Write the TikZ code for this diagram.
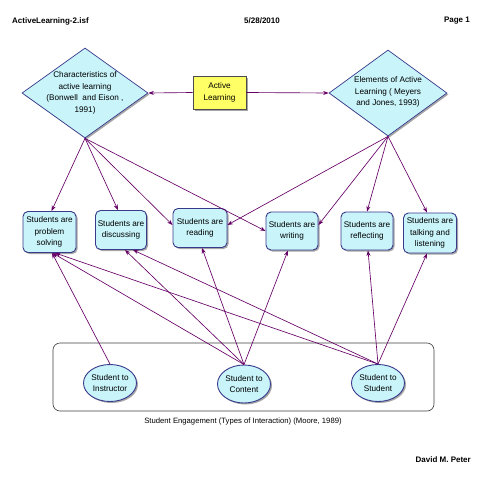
\documentclass[tikz,border=0pt]{standalone}
\usepackage{fontspec}
\setmainfont{Liberation Sans}
\usetikzlibrary{shapes.geometric,arrows.meta,shadows}
\definecolor{boxfill}{HTML}{C8F4FA}
\definecolor{boxline}{HTML}{3A3A8C}
\definecolor{edgecol}{HTML}{660066}
\definecolor{yel}{HTML}{FFFF66}
\tikzset{
  base/.style={font=\fontsize{8.2}{11.5}\selectfont, align=center},
  sbox/.style={base, draw=boxline, line width=0.9pt, fill=boxfill, rounded corners=5pt,
     minimum width=53, minimum height=39, inner sep=0.5pt,
     drop shadow={shadow xshift=1.5pt, shadow yshift=-1.5pt, fill=gray!70, opacity=1}},
  dia/.style={diamond, aspect=1.4, draw=boxline, line width=0.7pt, fill=boxfill,
     inner sep=0pt,
     drop shadow={shadow xshift=1.5pt, shadow yshift=-1.5pt, fill=gray!70, opacity=1}},
  ell/.style={base, ellipse, draw=boxline, line width=0.9pt, fill=boxfill, inner sep=0pt,
     minimum width=53, minimum height=37,
     drop shadow={shadow xshift=1.5pt, shadow yshift=-1.5pt, fill=gray!70, opacity=1}},
  act/.style={base, draw=gray!60!black, line width=0.6pt, fill=yel, minimum width=53, minimum height=33,
     drop shadow={shadow xshift=2pt, shadow yshift=-2pt, fill=gray!70, opacity=1}},
  hdr/.style={font=\fontsize{8}{10}\selectfont\bfseries, inner sep=0pt},
  con/.style={draw=edgecol, line width=0.65pt, -{Stealth[length=5.5pt,width=4pt]}},
}
\begin{document}
\begin{tikzpicture}[x=1pt,y=-1pt]
\useasboundingbox (0,0) rectangle (495,495);
\fill[white] (0,0) rectangle (495,495);

% header / footer
\node[hdr, anchor=west] (h1) at (12,21) {ActiveLearning-2.isf};
\node[hdr] (h2) at (262,21) {5/28/2010};
\node[hdr, anchor=east] (h3) at (470,21) {Page 1};
\node[hdr, anchor=east] (ft) at (471,460) {David M. Peter};

% container
\node[draw=black!75, line width=0.6pt, rounded corners=7pt, minimum width=381, minimum height=68, inner sep=0pt] (frame) at (243.5,377) {};
\node[base, font=\fontsize{7.7}{10}\selectfont] (cap) at (243,422) {Student Engagement (Types of Interaction) (Moore, 1989)};

% top
\node[act] (al) at (219.5,92.5) {Active\\Learning};
\node[dia, minimum width=126, minimum height=90] (L) at (85,93) {};
\node[base] (Lt) at (85,93) {Characteristics of\\active learning\\(Bonwell~ and Eison ,\\1991)};
\node[dia, minimum width=118, minimum height=86] (R) at (388,93) {};
\node[base] (Rt) at (388,92) {Elements of Active\\Learning ( Meyers\\and Jones, 1993)};

% middle boxes
\node[sbox, minimum height=41] (ps) at (49.5,232) {Students are\\problem\\solving};
\node[sbox, minimum width=51] (di) at (121,230) {Students are\\discussing};
\node[sbox, minimum width=54] (re) at (200,228) {Students are\\reading};
\node[sbox, minimum width=52, minimum height=38] (wr) at (292,231) {Students are\\writing};
\node[sbox, minimum width=52, minimum height=38] (rf) at (367,231) {Students are\\reflecting};
\node[sbox, minimum height=40] (tl) at (430,233) {Students are\\talking and\\listening};

% bottom ellipses
\node[ell] (si) at (110,383) {Student to\\Instructor};
\node[ell, minimum height=38] (sc) at (244,384) {Student to\\Content};
\node[ell] (ss) at (378,383) {Student to\\Student};

% top connectors
\draw[con] (al.west) -- (L.east);
\draw[con] (al.east) -- (R.west);

\draw[con] (L.south) -- ([xshift=2]ps.north);
\draw[con] (L.south) -- ([xshift=-3]di.north);
\draw[con] (L.south) -- ([yshift=3]re.west);
\draw[con] (L.south) -- (wr.west);

\draw[con] (R.south) -- ([yshift=3]re.east);
\draw[con] (R.south) -- ([yshift=6]wr.east);
\draw[con] (R.south) -- (rf.north);
\draw[con] (R.south) -- ([xshift=-3]tl.north);

% bottom connectors
\draw[con] (si.north) -- ([xshift=2.5]ps.south);
\draw[con] (sc.north) -- ([xshift=3]ps.south);
\draw[con] (ss.north) -- ([xshift=5.5]ps.south);
\draw[con] (sc.north) -- ([xshift=4]di.south);
\draw[con] (ss.north) -- ([xshift=12]di.south);
\draw[con] (sc.north) -- ([xshift=2]re.south);
\draw[con] (sc.north) -- ([xshift=-4]wr.south);
\draw[con] (ss.north) -- ([xshift=1]rf.south);
\draw[con] (ss.north) -- ([xshift=-3]tl.south);
\end{tikzpicture}
\end{document}
